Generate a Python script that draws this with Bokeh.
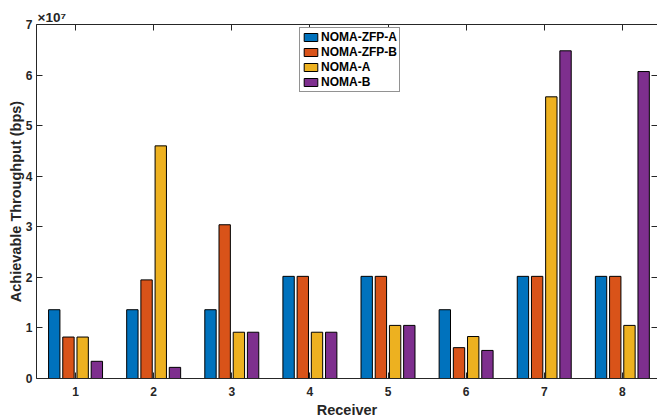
from bokeh.plotting import figure
from bokeh.models import (ColumnDataSource, FixedTicker, LinearAxis, Range1d,
                          CustomJSTickFormatter, Title)
from bokeh.transform import dodge
from bokeh.embed import file_html
from bokeh.resources import INLINE

# ---- data ----
receivers = [1, 2, 3, 4, 5, 6, 7, 8]
noma_zfp_a = [1.36e7, 1.36e7, 1.36e7, 2.02e7, 2.02e7, 1.36e7, 2.02e7, 2.02e7]
noma_zfp_b = [0.82e7, 1.95e7, 3.04e7, 2.02e7, 2.02e7, 0.61e7, 2.02e7, 2.02e7]
noma_a = [0.82e7, 4.60e7, 0.915e7, 0.915e7, 1.05e7, 0.83e7, 5.57e7, 1.05e7]
noma_b = [0.34e7, 0.22e7, 0.915e7, 0.915e7, 1.05e7, 0.555e7, 6.48e7, 6.07e7]
series_names = ["NOMA-ZFP-A", "NOMA-ZFP-B", "NOMA-A", "NOMA-B"]
y_ticks = [0, 1e7, 2e7, 3e7, 4e7, 5e7, 6e7, 7e7]

# ---- styling ----
colors = ["#0072BD", "#D95319", "#EDB120", "#7E2F8E"]
FONT = "Liberation Sans"
AX = "#262626"
n = len(series_names)
group_w = min(0.8, n / (n + 1.5))
step = group_w / n
bar_w = step * 0.8

src = ColumnDataSource(dict(x=receivers, a=noma_zfp_a, b=noma_zfp_b, c=noma_a, d=noma_b))

p = figure(width=657, height=420,
           x_range=Range1d(0.5, 8.45), y_range=Range1d(0, 7e7),
           output_backend="svg", toolbar_location=None,
           min_border_left=36, min_border_right=0, min_border_top=24, min_border_bottom=42)
p.outline_line_color = None
p.xgrid.visible = False
p.ygrid.visible = False
p.background_fill_color = "white"
p.border_fill_color = "white"

for i, (field, name) in enumerate(zip(["a", "b", "c", "d"], series_names)):
    off = (i - (n - 1) / 2) * step
    p.vbar(x=dodge("x", off), top=field, width=bar_w, bottom=0, source=src,
           fill_color=colors[i], line_color="black", line_width=1,
           legend_label=name)

def style_axis(ax, ticks, labels=True):
    ax.ticker = FixedTicker(ticks=ticks)
    ax.major_tick_in = 6
    ax.major_tick_out = 0
    ax.minor_tick_line_color = None
    ax.major_tick_line_color = AX
    ax.axis_line_color = AX
    ax.axis_line_width = 1
    ax.major_label_text_font = FONT
    ax.major_label_text_font_style = "bold"
    ax.major_label_text_font_size = "12px"
    ax.major_label_text_color = AX
    ax.axis_label_text_font = FONT
    ax.axis_label_text_font_style = "bold"
    ax.axis_label_text_font_size = "14.5px"
    ax.axis_label_text_color = AX
    if not labels:
        ax.formatter = CustomJSTickFormatter(code="return '';")
        ax.major_label_text_font_size = "1px"
        ax.major_label_standoff = 0

xa = p.xaxis[0]
style_axis(xa, receivers)
xa.major_label_standoff = 8
xa.axis_label = "Receiver"
xa.axis_label_standoff = 3

ya = p.yaxis[0]
style_axis(ya, y_ticks)
ya.formatter = CustomJSTickFormatter(code="return (tick/1e7).toFixed(0);")
ya.major_label_standoff = 4
ya.axis_label = "Achievable Throughput (bps)"
ya.axis_label_standoff = -1

top_ax = LinearAxis()
style_axis(top_ax, receivers, labels=False)
p.add_layout(top_ax, "above")

right_ax = LinearAxis()
style_axis(right_ax, y_ticks, labels=False)
right_ax.axis_line_color = None
p.add_layout(right_ax, "right")

# exponent label (MATLAB style ×10^7 above the y axis)
p.add_layout(Title(text="×10⁷", align="left", offset=1, standoff=0,
                   text_font=FONT, text_font_size="13.5px", text_font_style="bold",
                   text_color=AX), "above")

lg = p.legend[0]
lg.location = (263, 286)
lg.label_text_font = FONT
lg.label_text_font_style = "bold"
lg.label_text_font_size = "12px"
lg.label_text_color = "black"
lg.glyph_width = 17
lg.glyph_height = 10
lg.label_standoff = 2
lg.label_height = 14
lg.spacing = 1
lg.padding = 2
lg.margin = 0
lg.border_line_color = AX
lg.border_line_width = 1
lg.background_fill_alpha = 1

open("out.html", "w").write(file_html(p, INLINE))
